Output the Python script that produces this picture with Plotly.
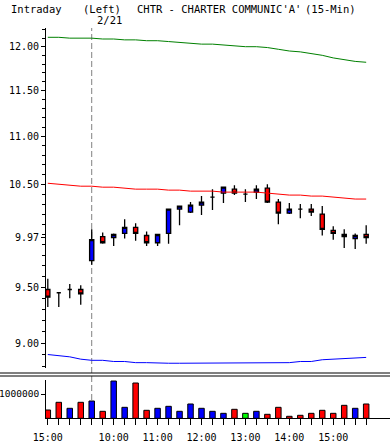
import math
import plotly.graph_objects as go

# ---- data ----
time_labels = ["15:00", "15:15", "15:30", "15:45",
               "9:30", "9:45", "10:00", "10:15", "10:30", "10:45",
               "11:00", "11:15", "11:30", "11:45", "12:00", "12:15",
               "12:30", "12:45", "13:00", "13:15", "13:30", "13:45",
               "14:00", "14:15", "14:30", "14:45", "15:00", "15:15",
               "15:30", "15:45"]
opens = [9.48, 9.45, 9.48, 9.48, 9.75, 9.98, 9.97, 10.01, 10.07, 9.99,
         9.92, 10.01, 10.25, 10.22, 10.29, 10.37, 10.41, 10.45, 10.40, 10.42,
         10.46, 10.32, 10.21, 10.25, 10.25, 10.20, 10.04, 10.00, 9.96, 10.00]
highs = [9.58, 9.45, 9.53, 9.52, 10.05, 10.02, 10.01, 10.15, 10.11, 10.03,
         10.00, 10.25, 10.28, 10.32, 10.38, 10.45, 10.47, 10.49, 10.45, 10.49,
         10.50, 10.35, 10.31, 10.30, 10.30, 10.28, 10.08, 10.05, 10.01, 10.09]
lows = [9.32, 9.32, 9.40, 9.34, 9.71, 9.91, 9.89, 9.96, 9.94, 9.89,
        9.89, 9.91, 10.09, 10.21, 10.19, 10.24, 10.31, 10.39, 10.32, 10.35,
        10.31, 10.10, 10.20, 10.16, 10.18, 9.99, 9.95, 9.87, 9.86, 9.91]
closes = [9.41, 9.45, 9.48, 9.44, 9.95, 9.92, 10.00, 10.07, 10.01, 9.92,
          10.00, 10.25, 10.28, 10.29, 10.32, 10.37, 10.47, 10.41, 10.40, 10.45,
          10.32, 10.21, 10.25, 10.25, 10.22, 10.05, 10.01, 9.98, 9.99, 9.97]
upper_band = [12.11, 12.11, 12.10, 12.10, 12.10, 12.09, 12.09, 12.08, 12.08, 12.07,
              12.07, 12.06, 12.05, 12.04, 12.03, 12.03, 12.02, 12.01, 12.00, 12.00,
              11.99, 11.97, 11.95, 11.94, 11.92, 11.90, 11.87, 11.85, 11.83, 11.82]
mid_line = [10.51, 10.50, 10.49, 10.48, 10.48, 10.47, 10.47, 10.46, 10.45, 10.45,
            10.45, 10.44, 10.44, 10.43, 10.43, 10.43, 10.42, 10.42, 10.42, 10.42,
            10.41, 10.40, 10.39, 10.39, 10.38, 10.38, 10.37, 10.36, 10.35, 10.35]
lower_band = [8.90, 8.89, 8.88, 8.86, 8.85, 8.85, 8.84, 8.84, 8.83, 8.83,
              8.825, 8.825, 8.825, 8.825, 8.825, 8.825, 8.825, 8.825, 8.825, 8.825,
              8.83, 8.83, 8.83, 8.84, 8.84, 8.855, 8.86, 8.87, 8.875, 8.875]
volumes = [342000, 658000, 411000, 658000, 712000, 288000, 1534000, 452000, 1452000, 329000,
           411000, 493000, 288000, 589000, 411000, 288000, 205000, 370000, 205000, 288000,
           164000, 452000, 82000, 123000, 205000, 329000, 205000, 534000, 411000, 589000]
vol_dir = ["d", "d", "u", "d", "u", "d", "u", "u", "d", "d",
           "u", "u", "u", "u", "u", "u", "u", "d", "n", "u",
           "d", "d", "d", "d", "d", "d", "d", "d", "u", "d"]
x_label_ticks = {0: "15:00", 6: "10:00", 10: "11:00", 14: "12:00", 18: "13:00", 22: "14:00", 26: "15:00"}
price_ticks = [9.00, 9.50, 9.97, 10.50, 11.00, 11.50, 12.00]
minor_price_ticks = [round(8.8 + 0.1 * i, 1) for i in range(35)]
vol_ticks = [1000000]
date_label = "2/21"
separator_idx = 4

# ---- geometry helpers (pixel layout) ----
W, H = 390, 444
ML = 46
def py(px):
    return 1 - px / H
def pxx(px):
    return (px - ML) / (W - ML)

xs = list(range(len(time_labels)))
FONT = "DejaVu Sans Mono"

fig = go.Figure()
fig.add_trace(go.Scatter(x=xs, y=upper_band, mode="lines", line=dict(color="#008000", width=1), yaxis="y", hoverinfo="skip"))
fig.add_trace(go.Scatter(x=xs, y=mid_line, mode="lines", line=dict(color="#FF0000", width=1), yaxis="y", hoverinfo="skip"))
fig.add_trace(go.Scatter(x=xs, y=lower_band, mode="lines", line=dict(color="#0000FF", width=1), yaxis="y", hoverinfo="skip"))
fig.add_trace(go.Candlestick(
    x=xs, open=opens, high=highs, low=lows, close=closes, yaxis="y",
    increasing=dict(fillcolor="#0000FF", line=dict(color="black", width=1.3)),
    decreasing=dict(fillcolor="#FF0000", line=dict(color="black", width=1.3)),
    whiskerwidth=0,
))
cmap = {"u": "#0000FF", "d": "#FF0000", "n": "#00FF00"}
fig.add_trace(go.Bar(x=xs, y=volumes, yaxis="y2", width=0.5,
                     marker=dict(color=[cmap[d] for d in vol_dir], line=dict(color="black", width=1))))

ymin_px, ymax_px = 368, 28
def log_at(px):
    return math.log10(12 * math.exp((46.7 - px) / 1030))

fig.update_layout(
    width=W, height=H,
    margin=dict(l=ML, r=0, t=0, b=0),
    paper_bgcolor="white", plot_bgcolor="white",
    showlegend=False, boxgap=0.45, bargap=0,
    font=dict(family=FONT, size=10, color="black"),
    xaxis=dict(domain=[0, 1], anchor="y2", range=[-0.164, 31.17],
               rangeslider=dict(visible=False),
               tickmode="array", tickvals=xs,
               ticktext=[x_label_ticks.get(i, "") for i in xs],
               ticks="outside", ticklen=6, tickcolor="black", tickwidth=1,
               showline=True, linecolor="black", linewidth=1,
               showgrid=False, zeroline=False, ticklabelstandoff=4,
               tickfont=dict(family=FONT, size=10)),
    yaxis=dict(domain=[py(ymin_px), py(ymax_px)], type="log",
               range=[log_at(ymin_px), log_at(ymax_px)],
               tickmode="array", tickvals=price_ticks,
               ticktext=["%.2f" % v for v in price_ticks],
               ticks="outside", ticklen=4, tickcolor="black",
               minor=dict(tickmode="array", tickvals=minor_price_ticks, ticks="outside", ticklen=3, tickcolor="black"),
               showline=True, linecolor="black", linewidth=1,
               showgrid=False, zeroline=False, anchor="x",
               tickfont=dict(family=FONT, size=10)),
    yaxis2=dict(domain=[py(418.3), py(380)], range=[0, 1576000],
                tickmode="array", tickvals=vol_ticks, ticktext=["1000000"],
                ticks="outside", ticklen=4, tickcolor="black",
                showline=True, linecolor="black", linewidth=1,
                showgrid=False, zeroline=False, anchor="x",
                tickfont=dict(family=FONT, size=9.5)),
)

# separator double line and day divider
for ypx in (373, 376):
    fig.add_shape(type="line", xref="paper", yref="paper", x0=pxx(0), x1=1, y0=py(ypx), y1=py(ypx),
                  line=dict(color="black", width=1))
fig.add_shape(type="line", xref="x", yref="paper", x0=separator_idx, x1=separator_idx,
              y0=py(418), y1=py(28), layer="below",
              line=dict(color="#808080", width=1, dash="6px,3px"))

# header texts
header = [("Intraday", 9), ("(Left)", 81), ("CHTR - CHARTER COMMUNIC'A'", 135), ("(15-Min)", 303)]
for txt, xp in header:
    fig.add_annotation(text=txt, xref="paper", yref="paper", x=pxx(xp), y=py(9),
                       xanchor="left", yanchor="middle", showarrow=False,
                       font=dict(family=FONT, size=10.5, color="black"))
fig.add_annotation(text=date_label, xref="paper", yref="paper", x=pxx(95), y=py(20),
                   xanchor="left", yanchor="middle", showarrow=False,
                   font=dict(family=FONT, size=10.5, color="black"))

fig.write_html("out.html", config={"displayModeBar": False, "staticPlot": True},
               post_script="document.body.style.margin='0';document.body.style.overflow='hidden';")
